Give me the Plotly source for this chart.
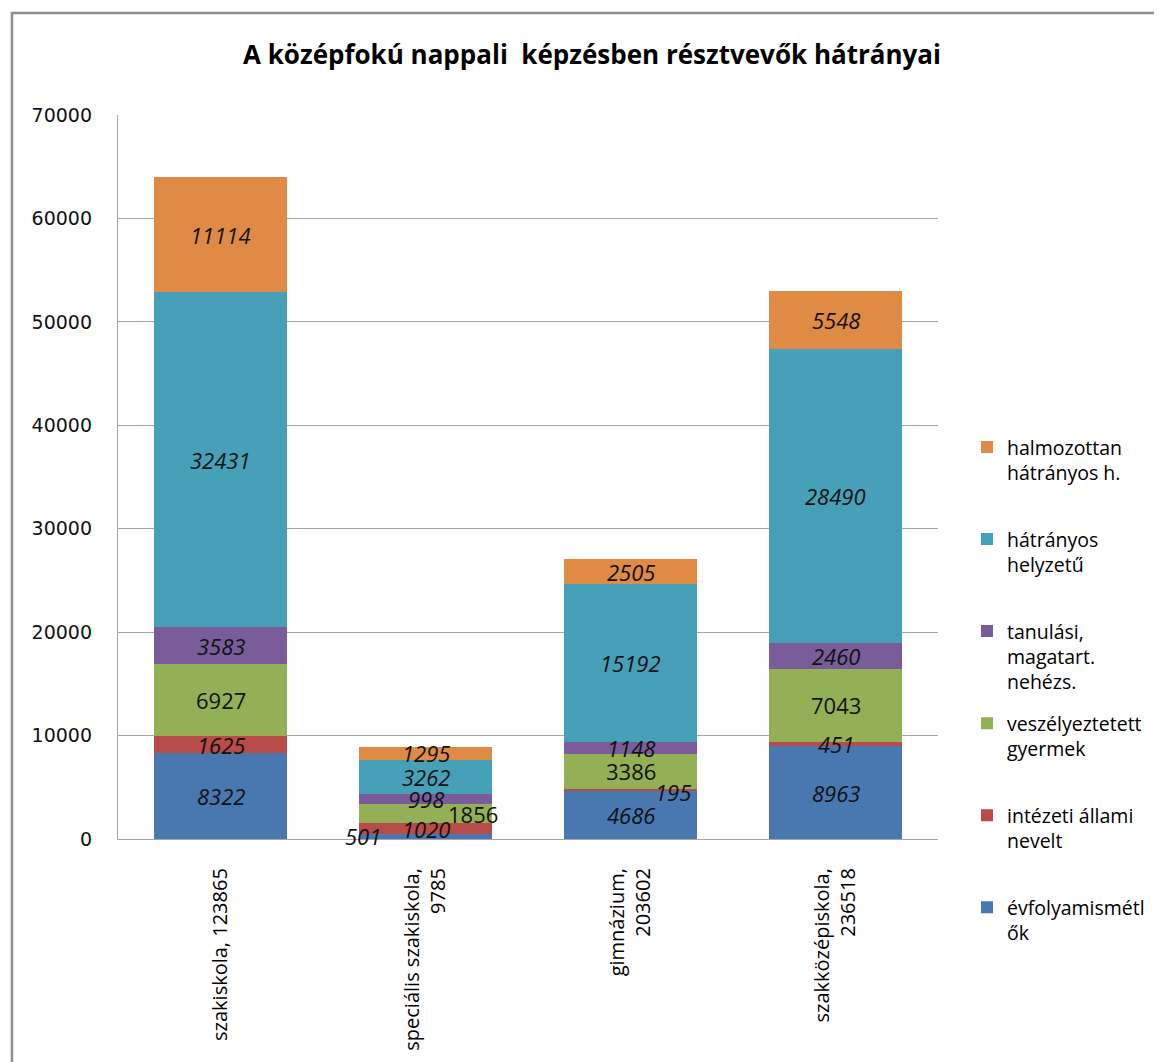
import plotly.graph_objects as go

# ---- data ----
categories = ["szakiskola, 123865", "speciális szakiskola,<br>9785", "gimnázium,<br>203602", "szakközépiskola,<br>236518"]
series_names = [
    "évfolyamismétl<br>ők",
    "intézeti állami<br>nevelt",
    "veszélyeztetett<br>gyermek",
    "tanulási,<br>magatart.<br>nehézs.",
    "hátrányos<br>helyzetű",
    "halmozottan<br>hátrányos h.",
]
evfolyamismetlok = [8322, 501, 4686, 8963]
intezeti_allami_nevelt = [1625, 1020, 195, 451]
veszelyeztetett_gyermek = [6927, 1856, 3386, 7043]
tanulasi_nehezseg = [3583, 998, 1148, 2460]
hatranyos_helyzetu = [32431, 3262, 15192, 28490]
halmozottan_hatranyos = [11114, 1295, 2505, 5548]
y_ticks = [0, 10000, 20000, 30000, 40000, 50000, 60000, 70000]

series_values = [evfolyamismetlok, intezeti_allami_nevelt, veszelyeztetett_gyermek,
                 tanulasi_nehezseg, hatranyos_helyzetu, halmozottan_hatranyos]

# ---- styling ----
colors = ["#4978B0", "#B84C48", "#94B057", "#7A5C9A", "#46A0B8", "#E08B45"]
italic = [True, True, False, True, True, True]
# manual label offsets (pixels) for labels moved in the original: (series, category) -> (dx, dy)
label_shift = {(0, 1): (-63, 0), (2, 1): (47, 0), (1, 2): (42, -2)}

fig = go.Figure()
n = len(series_names)
for i, (name, vals) in enumerate(zip(series_names, series_values)):
    # pad legend text to three lines so entries are evenly spaced
    nlines = name.count("<br>") + 1
    legend_name = name + "<br>\u00a0" * (3 - nlines)
    fig.add_trace(go.Bar(
        x=categories, y=vals, name=legend_name, legendgroup=f"g{i}",
        legendrank=n - i,
        marker=dict(color=colors[i], line=dict(width=0)),
        hoverinfo="skip",
    ))

# data labels at segment midpoints (computed from the data)
annotations = []
cum = [0] * len(categories)
for i, vals in enumerate(series_values):
    for j, v in enumerate(vals):
        mid = cum[j] + v / 2
        dx, dy = label_shift.get((i, j), (0, 0))
        txt = f"<i>{v}</i>" if italic[i] else f"{v}"
        annotations.append(dict(
            x=categories[j], y=mid, xref="x", yref="y", text=txt, showarrow=False,
            xshift=dx, yshift=dy,
            font=dict(family="Open Sans", size=22, color="#111111"),
        ))
        cum[j] += v

fig.update_layout(
    barmode="stack",
    bargap=0.355,
    width=1162, height=1062,
    margin=dict(l=110, r=232, t=107, b=231, autoexpand=False),
    paper_bgcolor="white", plot_bgcolor="white",
    title=dict(text="<b>A középfokú nappali  képzésben résztvevők hátrányai</b>",
               x=0.5026, xanchor="center", y=0.9557, yanchor="middle",
               font=dict(family="Open Sans", size=26, color="#000000")),
    annotations=annotations,
    legend=dict(
        xref="container", yref="container",
        x=0.8253, xanchor="left", y=0.6047, yanchor="top",
        traceorder="grouped", valign="top", tracegroupgap=13,
        maxheight=800,
        font=dict(family="Open Sans", size=19.5, color="#000000"),
        bgcolor="rgba(0,0,0,0)",
        itemclick=False, itemdoubleclick=False,
    ),
    showlegend=True,
    shapes=[dict(type="rect", xref="paper", yref="paper",
                 x0=-0.1293, y0=-0.6, x1=1.5, y1=1.1409,
                 line=dict(color="#8c8c8c", width=2.5), fillcolor="rgba(0,0,0,0)", layer="below")],
)
fig.update_yaxes(
    range=[0, 70000], tickvals=y_ticks, ticktext=[str(t) for t in y_ticks],
    showgrid=True, gridcolor="#a6a6a6", gridwidth=1.3,
    showline=True, linecolor="#a6a6a6", linewidth=1.3,
    zeroline=False, ticks="", ticklabelstandoff=21,
    tickfont=dict(family="DejaVu Sans", size=19, color="#111111"),
)
fig.update_xaxes(
    showline=True, linecolor="#a6a6a6", linewidth=1.3,
    tickangle=-90, ticks="", ticklabelstandoff=20,
    tickfont=dict(family="Open Sans", size=20, color="#000000"),
)

fig.write_html("out.html")
